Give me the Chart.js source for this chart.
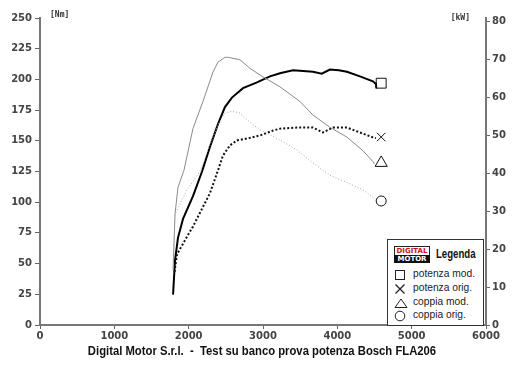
<!DOCTYPE html>
<html>
<head>
<meta charset="utf-8">
<script src="https://cdn.jsdelivr.net/npm/chart.js@4.4.1/dist/chart.umd.min.js"></script>
<style>
  body { margin: 0; background: #fff; }
  #wrap { position: relative; width: 520px; height: 367px; }
  #legend {
    position: absolute; left: 387px; top: 239px; width: 95px; height: 85px;
    border: 1px solid #333; background: #fff; font-family: "Liberation Sans", Arial, sans-serif;
  }
  .logo { position: absolute; left: 6px; top: 6px; width: 36px; font: bold 7px "DejaVu Sans", sans-serif; text-align: center; line-height: 8px; }
  .logo .d { color: #d01010; background: #fff; border: 1px solid #222; border-bottom: none; }
  .logo .m { color: #fff; background: #111; }
  .ltitle { position: absolute; left: 48px; top: 7px; font: bold 12px "Liberation Sans", sans-serif; color: #111;
            transform: scaleX(0.8); transform-origin: left top; }
  .row { position: absolute; left: 6px; height: 14px; font-size: 11px; color: #222; }
  .row svg { position: absolute; left: 0; top: 2px; }
  .row span { position: absolute; left: 19px; top: 0; white-space: nowrap; transform: scaleX(0.93); transform-origin: left top; }
</style>
</head>
<body>
<div id="wrap">
  <canvas id="myChart" width="520" height="367"></canvas>
  <div id="legend">
    <div class="logo"><div class="d">DIGITAL</div><div class="m">MOTOR</div></div>
    <div class="ltitle">Legenda</div>
    <div class="row" style="top:27px"><svg width="12" height="12"><rect x="1.5" y="1.5" width="9" height="9" fill="none" stroke="#222"/></svg><span>potenza mod.</span></div>
    <div class="row" style="top:41px"><svg width="12" height="12"><path d="M1.5 1.5 L10.5 10.5 M10.5 1.5 L1.5 10.5" stroke="#222" stroke-width="1.3"/></svg><span>potenza orig.</span></div>
    <div class="row" style="top:55px"><svg width="14" height="12"><path d="M1 10.5 L7 2 L13 10.5 Z" fill="none" stroke="#222"/></svg><span>coppia mod.</span></div>
    <div class="row" style="top:68px"><svg width="12" height="12"><circle cx="6" cy="6" r="4.8" fill="none" stroke="#222"/></svg><span>coppia orig.</span></div>
  </div>
</div>
<script>
// potenza (kW, asse destro)
const potModRpm = [1790, 1816, 1856, 1924, 2058, 2180, 2286, 2394, 2488, 2582, 2731, 2919, 3094, 3228, 3403, 3540, 3672, 3790, 3900, 4020, 4129, 4304, 4479, 4520, 4525];
const potModKw  = [8, 17, 23, 28, 34, 40.5, 47, 53, 57.5, 60, 62.5, 64, 65.6, 66.4, 67.2, 67.0, 66.8, 66.3, 67.4, 67.2, 66.8, 65.6, 64.3, 63.6, 62.4];
const potOrigRpm = [1810, 1843, 2058, 2287, 2394, 2461, 2556, 2650, 2784, 2959, 3134, 3228, 3457, 3672, 3806, 3941, 4129, 4304, 4479, 4520];
const potOrigKw  = [14, 18.7, 26, 34.8, 40.8, 44.7, 47.4, 48.7, 49.2, 50, 51.3, 51.8, 52.1, 52.1, 50.8, 52.1, 52.1, 50.8, 49.5, 49.3];

// coppia (Nm, asse sinistro)
const copModRpm = [1790, 1816, 1856, 1937, 2058, 2192, 2327, 2394, 2488, 2529, 2690, 2825, 3000, 3228, 3497, 3672, 3900, 4129, 4344, 4479, 4500];
const copModNm  = [45, 90, 112, 126, 160, 182, 206, 214, 218, 218, 216, 209, 202, 194, 182, 171, 161, 153, 142, 133, 131];
const copOrigRpm = [1800, 1816, 1977, 2152, 2287, 2394, 2488, 2582, 2690, 2825, 2959, 3094, 3228, 3457, 3672, 3900, 4129, 4344, 4479, 4500];
const copOrigNm  = [55, 90, 110, 125, 146.6, 163, 172.6, 174, 172.6, 165, 159, 155, 150.6, 142.5, 132, 122, 116, 110, 104, 102];

const markerRpm = 4590;
const markerKw = [63.8, 49.6];   // quadrato, croce
const markerNm = [132, 101];     // triangolo, cerchio

const rpmTicks = [0, 1000, 2000, 3000, 4000, 5000, 6000];
const kwTicks = [0, 10, 20, 30, 40, 50, 60, 70, 80];

const titleText = 'Digital Motor S.r.l.  -  Test su banco prova potenza Bosch FLA206';

function pts(xs, ys) {
  return xs.map((x, i) => ({ x: x, y: ys[i] }));
}

function lineSet(label, xs, ys, axis, color, width, dash) {
  return {
    label: label, data: pts(xs, ys), yAxisID: axis,
    borderColor: color, borderWidth: width, borderDash: dash,
    pointRadius: 0, tension: 0, fill: false
  };
}
function markerSet(y, axis, style, r) {
  return {
    data: [{ x: markerRpm, y: y }], yAxisID: axis, showLine: false,
    pointStyle: style, pointRadius: r, borderColor: '#111', borderWidth: 1,
    backgroundColor: 'rgba(0,0,0,0)'
  };
}

const tickFont = { family: 'DejaVu Sans', size: 10, weight: 'bold' };

const axisLabels = {
  id: 'axisLabels',
  afterDraw(chart) {
    const ctx = chart.ctx;
    ctx.save();
    ctx.font = 'bold 8px "DejaVu Sans Mono"';
    ctx.fillStyle = '#333';
    ctx.textBaseline = 'middle';
    ctx.textAlign = 'left';
    ctx.fillText('[Nm]', 50, 15);
    ctx.textAlign = 'right';
    ctx.fillText('[kW]', 470, 18);
    // titolo in basso, compresso in larghezza
    ctx.font = 'bold 12px "Liberation Sans"';
    ctx.fillStyle = '#111';
    ctx.textAlign = 'center';
    ctx.translate(262, 352);
    ctx.scale(0.94, 1);
    ctx.fillText(titleText, 0, 0);
    ctx.restore();
  }
};

document.addEventListener('DOMContentLoaded', () => {
  const ctx = document.getElementById('myChart');
  new Chart(ctx, {
    type: 'line',
    data: {
      datasets: [
        lineSet('coppia orig.', copOrigRpm, copOrigNm, 'y', '#a8a8a8', 1, [1, 2]),
        lineSet('coppia mod.', copModRpm, copModNm, 'y', '#8a8a8a', 1, []),
        lineSet('potenza orig.', potOrigRpm, potOrigKw, 'y2', '#111', 2, [2, 2]),
        lineSet('potenza mod.', potModRpm, potModKw, 'y2', '#000', 2, []),
        markerSet(markerKw[0], 'y2', 'rect', 7),
        markerSet(markerKw[1], 'y2', 'crossRot', 6),
        markerSet(markerNm[0], 'y', 'triangle', 7),
        markerSet(markerNm[1], 'y', 'circle', 5)
      ]
    },
    options: {
      responsive: false,
      animation: false,
      devicePixelRatio: 1,
      layout: { padding: { top: 18, left: 0, right: 0, bottom: 0 } },
      plugins: {
        legend: { display: false },
        tooltip: { enabled: false }
      },
      scales: {
        x: {
          type: 'linear', min: 0, max: 6000,
          afterBuildTicks: (s) => { s.ticks = rpmTicks.map(v => ({ value: v })); },
          afterFit: (s) => { s.height = 42; },
          grid: { drawOnChartArea: false, tickLength: 4, color: '#666' },
          border: { color: '#777', width: 2 },
          ticks: { font: tickFont, color: '#444', padding: 1, maxRotation: 0, callback: (v) => String(v) }
        },
        y: {
          position: 'left', min: 0, max: 250,
          ticks: { stepSize: 25, font: tickFont, color: '#444', padding: 3 },
          afterFit: (s) => { s.width = 40; },
          grid: { drawOnChartArea: false, tickLength: 5, color: '#666' },
          border: { color: '#777', width: 2 }
        },
        y2: {
          position: 'right', min: 0, max: 81,
          afterBuildTicks: (s) => { s.ticks = kwTicks.map(v => ({ value: v })); },
          ticks: { font: tickFont, color: '#444', padding: 2 },
          afterFit: (s) => { s.width = 34; },
          grid: { drawOnChartArea: false, tickLength: 4, color: '#666' },
          border: { color: '#777', width: 2 }
        }
      }
    },
    plugins: [axisLabels]
  });
});
</script>
</body>
</html>
